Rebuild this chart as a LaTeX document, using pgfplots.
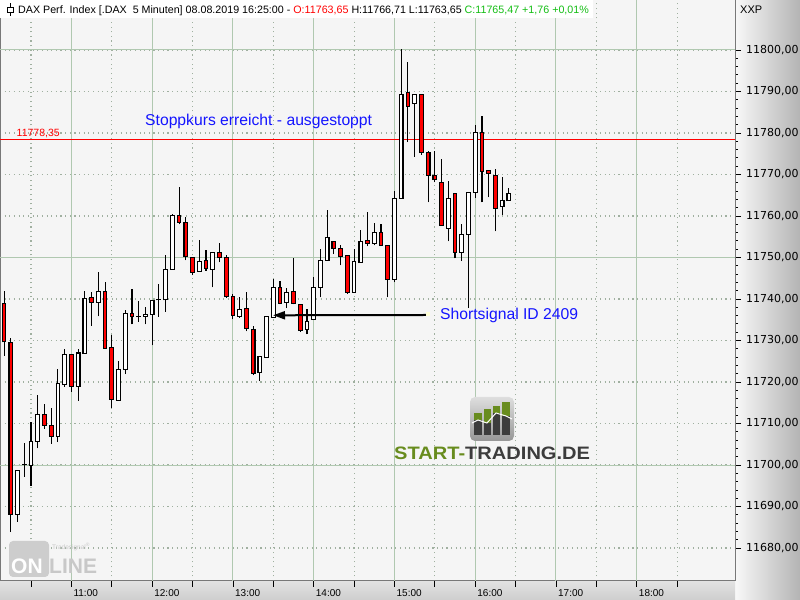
\documentclass[border=0pt]{standalone}
\usepackage{fontspec}
\setmainfont{Liberation Sans}
\newfontfamily\dejavu{DejaVu Sans}
\usepackage{graphicx}
\usepackage{pgfplots}
\usepackage{pgfplotstable}
\pgfplotsset{compat=1.18}
\usetikzlibrary{arrows.meta}

\definecolor{plotbg}{RGB}{245,245,245}
\definecolor{gridsolid}{RGB}{176,200,176}
\definecolor{griddot}{RGB}{160,176,160}
\definecolor{cred}{RGB}{255,0,0}
\definecolor{hdrgreen}{RGB}{20,190,20}
\definecolor{stgreen}{RGB}{104,140,30}
\definecolor{stgray}{RGB}{60,60,60}
\definecolor{frame}{RGB}{120,120,120}
\definecolor{txtblue}{RGB}{20,20,255}
\definecolor{handle}{RGB}{255,255,215}
\definecolor{wmbox}{RGB}{205,205,205}
\definecolor{wmtext}{RGB}{200,200,200}
\definecolor{panelL}{RGB}{248,248,248}
\definecolor{panelM}{RGB}{232,232,232}
\definecolor{panelR}{RGB}{180,180,180}
\definecolor{stripT}{RGB}{226,226,226}
\definecolor{stripB}{RGB}{206,206,206}
\definecolor{iconT}{RGB}{222,222,222}
\definecolor{iconB}{RGB}{150,150,150}

% DAX 5-minute candles, 08.08.2019 (index 12 = 11:00, one step = 5 minutes)
% falling candles (close below open)
\pgfplotstableread{
i  O        H        L        C
2  11739.0  11741.9  11726.3  11729.7
3  11729.6  11730.5  11683.8  11688.1
8  11712.2  11714.7  11708.7  11709.6
9  11709.6  11713.8  11705.1  11706.9
12 11726.7  11726.7  11717.7  11719.0
15 11740.4  11741.8  11733.6  11739.2
17 11741.9  11744.2  11728.1  11728.1
18 11728.4  11731.3  11713.7  11715.8
21 11736.5  11742.4  11733.9  11735.7
28 11760.2  11766.9  11758.0  11758.5
29 11758.5  11759.7  11749.3  11750.3
30 11750.0  11750.0  11745.7  11746.4
32 11749.3  11751.7  11746.8  11747.4
34 11751.3  11753.4  11748.8  11750.0
35 11750.0  11750.5  11740.3  11740.6
36 11740.6  11741.1  11735.1  11736.1
38 11737.8  11741.6  11732.2  11732.9
39 11732.7  11733.4  11721.6  11722.1
43 11742.8  11744.3  11738.7  11739.0
45 11741.9  11749.8  11738.7  11739.0
46 11738.7  11738.7  11732.0  11732.5
51 11753.9  11753.9  11750.8  11752.2
52 11752.2  11753.0  11748.1  11750.3
53 11750.5  11750.5  11741.3  11741.6
56 11754.1  11760.9  11752.7  11753.4
58 11756.1  11758.0  11752.9  11752.9
59 11752.9  11752.9  11740.4  11744.7
62 11789.8  11797.0  11777.8  11786.4
64 11789.3  11789.3  11774.8  11775.3
65 11775.3  11775.6  11763.3  11769.8
66 11769.8  11775.6  11768.1  11768.8
67 11768.1  11773.7  11757.8  11757.8
69 11765.5  11765.5  11749.8  11751.3
73 11780.2  11784.0  11763.3  11770.8
74 11771.0  11771.0  11764.5  11770.3
75 11769.8  11771.3  11756.3  11761.9
}\downcandles

% rising and unchanged candles
\pgfplotstableread{
i  O        H        L        C
4  11688.1  11698.7  11686.3  11698.6
5  11700.2  11705.2  11697.2  11700.2
6  11699.9  11710.4  11694.9  11705.7
7  11705.7  11716.9  11704.0  11712.2
10 11706.9  11723.1  11705.5  11719.7
11 11719.4  11728.0  11718.9  11726.7
13 11719.0  11728.0  11715.5  11727.0
14 11726.9  11741.9  11726.9  11740.2
16 11739.2  11746.5  11735.8  11741.9
19 11715.6  11725.1  11715.6  11723.1
20 11723.1  11737.3  11721.9  11736.5
22 11735.8  11739.6  11734.5  11735.8
23 11735.8  11738.1  11733.9  11736.3
24 11736.3  11739.7  11728.8  11739.7
25 11739.8  11743.5  11735.7  11739.8
26 11739.8  11750.5  11736.9  11747.2
27 11747.2  11760.6  11747.0  11760.2
31 11746.7  11754.2  11746.7  11749.1
33 11747.2  11751.3  11742.8  11751.3
37 11735.8  11740.6  11735.5  11737.5
40 11722.3  11726.2  11720.2  11726.2
41 11726.0  11736.0  11726.0  11735.8
42 11735.6  11744.7  11735.6  11742.8
44 11739.2  11742.6  11737.8  11741.6
47 11732.7  11737.5  11731.5  11734.6
48 11735.1  11745.2  11735.1  11742.8
49 11742.8  11752.0  11740.4  11749.3
50 11749.3  11761.4  11749.3  11754.9
54 11741.6  11752.0  11741.6  11749.1
55 11748.8  11756.6  11748.8  11753.9
57 11753.4  11758.2  11752.9  11756.1
60 11744.7  11766.0  11744.0  11764.3
61 11764.3  11800.2  11764.3  11789.3
63 11787.2  11789.5  11774.3  11789.3
68 11757.0  11768.4  11753.9  11764.3
70 11751.3  11758.0  11749.1  11755.6
71 11755.6  11765.7  11737.8  11765.7
72 11765.7  11781.9  11764.3  11780.2
76 11762.3  11769.3  11760.2  11763.8
77 11763.65 11766.71 11763.65 11765.47
}\upcandles

% vertical strokes drawn as one-sided error bars
\pgfplotsset{
  stroke/.style={draw=none, mark=none, forget plot,
    error bars/.cd, y dir=plus, y explicit, error mark=none,
    error bar style={line cap=butt, #1}},
}

\begin{document}
\begin{tikzpicture}[x=1bp,y=1bp]
\useasboundingbox (0,0) rectangle (800,600);
% price scale panel and time strip
\shade[left color=panelL, middle color=panelM, right color=panelR] (735,0) rectangle (800,600);
\shade[top color=stripT, bottom color=stripB] (0,0) rectangle (735,19);

\begin{axis}[
  at={(0bp,19bp)}, anchor=south west,
  scale only axis, width=735bp, height=581bp,
  xmin=1.391, xmax=110.6, ymin=11672.05, ymax=11812.05,
  axis background/.style={fill=plotbg},
  axis line style={draw=frame, line width=1bp},
  xtick={6,18,...,102}, xticklabels={},
  extra x ticks={12,24,...,96},
  extra x tick labels={11:00,12:00,13:00,14:00,15:00,16:00,17:00,18:00},
  extra x tick style={grid=major, major grid style={draw=gridsolid, line width=1bp, solid}},
  xmajorgrids,
  ytick={11680,11690,11700,11710,11720,11730,11740,11750,11760,11770,11780,11790,11800},
  yticklabels={{11680,00},{11690,00},{11700,00},{11710,00},{11720,00},{11730,00},{11740,00},
    {11750,00},{11760,00},{11770,00},{11780,00},{11790,00},{11800,00}},
  ymajorgrids,
  scaled y ticks=false,
  major grid style={draw=griddot, line width=1.1bp, dash pattern=on 1.1bp off 3.55bp},
  extra y ticks={11700,11750,11800}, extra y tick labels={},
  extra y tick style={grid=major, major grid style={draw=gridsolid, line width=1bp, solid}, major tick length=0pt},
  minor y tick num=4,
  xtick pos=bottom, ytick pos=right, yticklabel pos=right,
  tick align=outside,
  major tick length=6bp, minor tick length=3bp,
  tick style={draw=black, line width=0.8bp},
  yticklabel style={font=\dejavu\fontsize{11bp}{13bp}\selectfont, inner sep=1bp, xshift=4bp},
  xticklabel style={font=\fontsize{10bp}{12bp}\selectfont, anchor=north west, inner sep=0pt, xshift=2bp, yshift=-2bp},
]
% stop level
\addplot[cred, line width=1.2bp, forget plot] coordinates {(1.391,11778.35) (110.6,11778.35)};

% wicks
\addplot[stroke={black, line width=1.1bp}] table[x=i, y=L, y error plus expr={\thisrow{H}-\thisrow{L}}] {\downcandles};
\addplot[stroke={black, line width=1.1bp}] table[x=i, y=L, y error plus expr={\thisrow{H}-\thisrow{L}}] {\upcandles};
% body outlines (half a line width beyond the body)
\addplot[stroke={black, line width=4.8bp}] table[x=i, y expr={\thisrow{C}-0.1325}, y error plus expr={\thisrow{O}-\thisrow{C}+0.265}] {\downcandles};
\addplot[stroke={black, line width=4.8bp}] table[x=i, y expr={\thisrow{O}-0.1325}, y error plus expr={\thisrow{C}-\thisrow{O}+0.265}] {\upcandles};
% body fills
\addplot[stroke={cred, line width=2.6bp}] table[x=i, y expr={\thisrow{C}+0.1325}, y error plus expr={max(\thisrow{O}-\thisrow{C}-0.265,0)}] {\downcandles};
\addplot[stroke={white, line width=2.6bp}] table[x=i, y expr={\thisrow{O}+0.1325}, y error plus expr={max(\thisrow{C}-\thisrow{O}-0.265,0)}] {\upcandles};
\end{axis}

% header line
\fill[white] (0,582) rectangle (593,600);
\draw[black, line width=0.8bp] (10,584) -- (10,597);
\draw[black, line width=0.8bp, fill=white] (7,587.5) rectangle (13,593);
\node[anchor=base west, inner sep=0pt, font=\fontsize{10.7bp}{12bp}\selectfont] at (18,586)
  {DAX Perf. Index [.DAX\ \ 5 Minuten] 08.08.2019 16:25:00 - \textcolor{cred}{O:11763,65} H:11766,71 L:11763,65 \textcolor{hdrgreen}{C:11765,47 +1,76 +0,01\%}};
\node[anchor=base west, inner sep=0pt, font=\fontsize{11bp}{12bp}\selectfont] at (740,586.7) {XXP};

% stop level label and notes
\node[anchor=base west, inner sep=0pt, text=cred, font=\fontsize{10.5bp}{12bp}\selectfont] at (16.5,463.3) {11778,35};
\node[anchor=base west, inner sep=0pt, text=txtblue, font=\fontsize{15.7bp}{18bp}\selectfont] at (145,474) {Stoppkurs erreicht - ausgestoppt};
\node[anchor=base west, inner sep=0pt, text=txtblue, font=\fontsize{15.7bp}{18bp}\selectfont] at (440,280) {Shortsignal ID 2409};
\draw[line width=2bp, -{Triangle[length=12bp,width=8bp]}] (426.7,285) -- (273,284.7);
\fill[handle] (425.7,283.5) rectangle (430,287.5);

% START-TRADING.DE mark
\shade[top color=iconT, bottom color=iconB, rounded corners=5bp] (470,159) rectangle (514,203);
\fill[stgray] (474,165) rectangle (482,187);
\fill[stgray] (484,165) rectangle (491,191);
\fill[stgray] (493,165) rectangle (500,194);
\fill[stgray] (502,165) rectangle (510,198);
\fill[stgreen] (474,180) rectangle (482,187);
\fill[stgreen] (484,177) rectangle (491,191);
\fill[stgreen] (493,187) rectangle (500,194);
\fill[stgreen] (502,184) rectangle (510,198);
\draw[white, line width=1bp] (472,177) -- (478,180) -- (487,177) -- (496,187) -- (506,184) -- (512,181);
\node[anchor=base west, inner sep=0pt, font=\bfseries\fontsize{18bp}{20bp}\selectfont] at (394,140)
  {\scalebox{1.115}[1]{\textcolor{stgreen}{START-}\textcolor{stgray}{TRADING.DE}}};

% Tradesignal online mark
\fill[wmbox, rounded corners=4bp] (9,23) rectangle (49,59);
\node[anchor=base west, inner sep=0pt, text=white, font=\bfseries\fontsize{21bp}{22bp}\selectfont] at (11,26) {ON};
\node[anchor=base west, inner sep=0pt, text=wmtext, font=\bfseries\fontsize{21bp}{22bp}\selectfont] at (49,26) {LINE};
\node[anchor=base west, inner sep=0pt, text=wmtext, font=\fontsize{6.5bp}{7bp}\selectfont] at (52,50) {Tradesignal\textsuperscript{\tiny\textregistered}};
\end{tikzpicture}
\end{document}
